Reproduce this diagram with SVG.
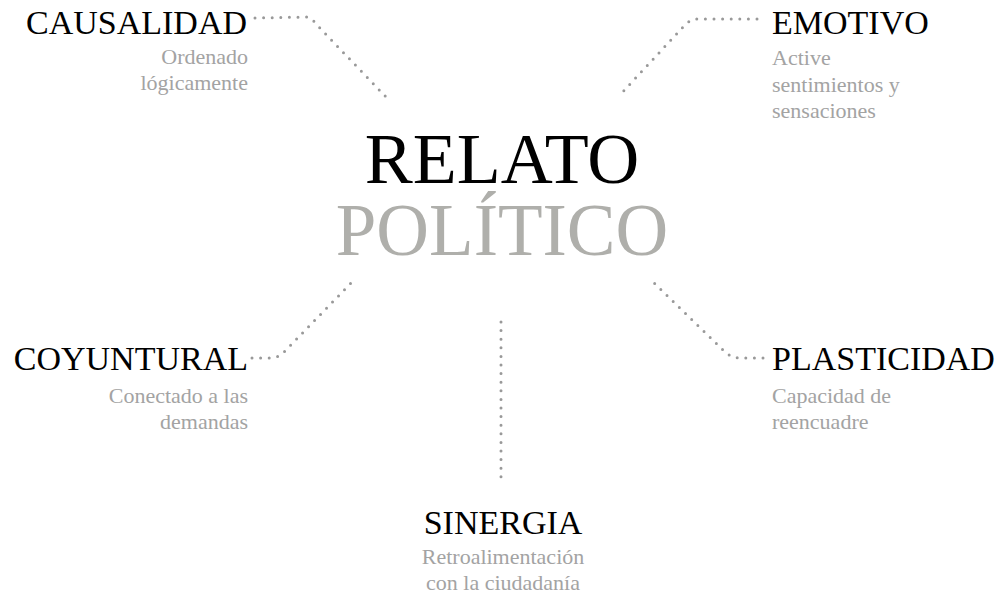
<svg xmlns="http://www.w3.org/2000/svg" width="1002" height="600" viewBox="0 0 1002 600">
<style>
.h{font-family:"Liberation Serif","Times New Roman",serif;font-size:34px;fill:#000}
.s{font-family:"Liberation Serif","Times New Roman",serif;font-size:22px;fill:#a3a3a3}
.dot{fill:none;stroke:#999;stroke-width:3;stroke-linecap:round;stroke-dasharray:0 8.6}
.t1{font-family:"Liberation Serif","Times New Roman",serif;font-size:72px;fill:#000}
.t2{font-family:"Liberation Serif","Times New Roman",serif;font-size:73px;fill:#afafab}
</style>
<rect width="1002" height="600" fill="#fff"/>
<g id="connectors">
<path class="dot" d="M255,18 L306,17 Q312,18 316,24 L387,98"/>
<path class="dot" d="M757,19 L698,19 Q690,19 684,26 L618,97"/>
<path class="dot" d="M252,358 L272,358 Q280,357 286,350 L353,281"/>
<path class="dot" d="M763,358 L740,358 Q730,358 722,349 L652,281"/>
<path class="dot" d="M501,322 L501,478"/>
</g>
<g id="center">
<text class="t1" x="502" y="183" text-anchor="middle">RELATO</text>
<text class="t2" x="502" y="255" text-anchor="middle">POLÍTICO</text>
</g>
<g id="causalidad">
<text class="h" x="247" y="34" text-anchor="end">CAUSALIDAD</text>
<text class="s" x="248" y="64" text-anchor="end">Ordenado</text>
<text class="s" x="248" y="90" text-anchor="end">lógicamente</text>
</g>
<g id="emotivo">
<text class="h" x="772" y="34">EMOTIVO</text>
<text class="s" x="772" y="65">Active</text>
<text class="s" x="772" y="92">sentimientos y</text>
<text class="s" x="772" y="118">sensaciones</text>
</g>
<g id="coyuntural">
<text class="h" x="248" y="370" text-anchor="end">COYUNTURAL</text>
<text class="s" x="248" y="403" text-anchor="end">Conectado a las</text>
<text class="s" x="248" y="429" text-anchor="end">demandas</text>
</g>
<g id="plasticidad">
<text class="h" x="772" y="370">PLASTICIDAD</text>
<text class="s" x="772" y="403">Capacidad de</text>
<text class="s" x="772" y="429">reencuadre</text>
</g>
<g id="sinergia">
<text class="h" x="503" y="534" text-anchor="middle">SINERGIA</text>
<text class="s" x="503" y="564" text-anchor="middle">Retroalimentación</text>
<text class="s" x="503" y="590" text-anchor="middle">con la ciudadanía</text>
</g>
</svg>
